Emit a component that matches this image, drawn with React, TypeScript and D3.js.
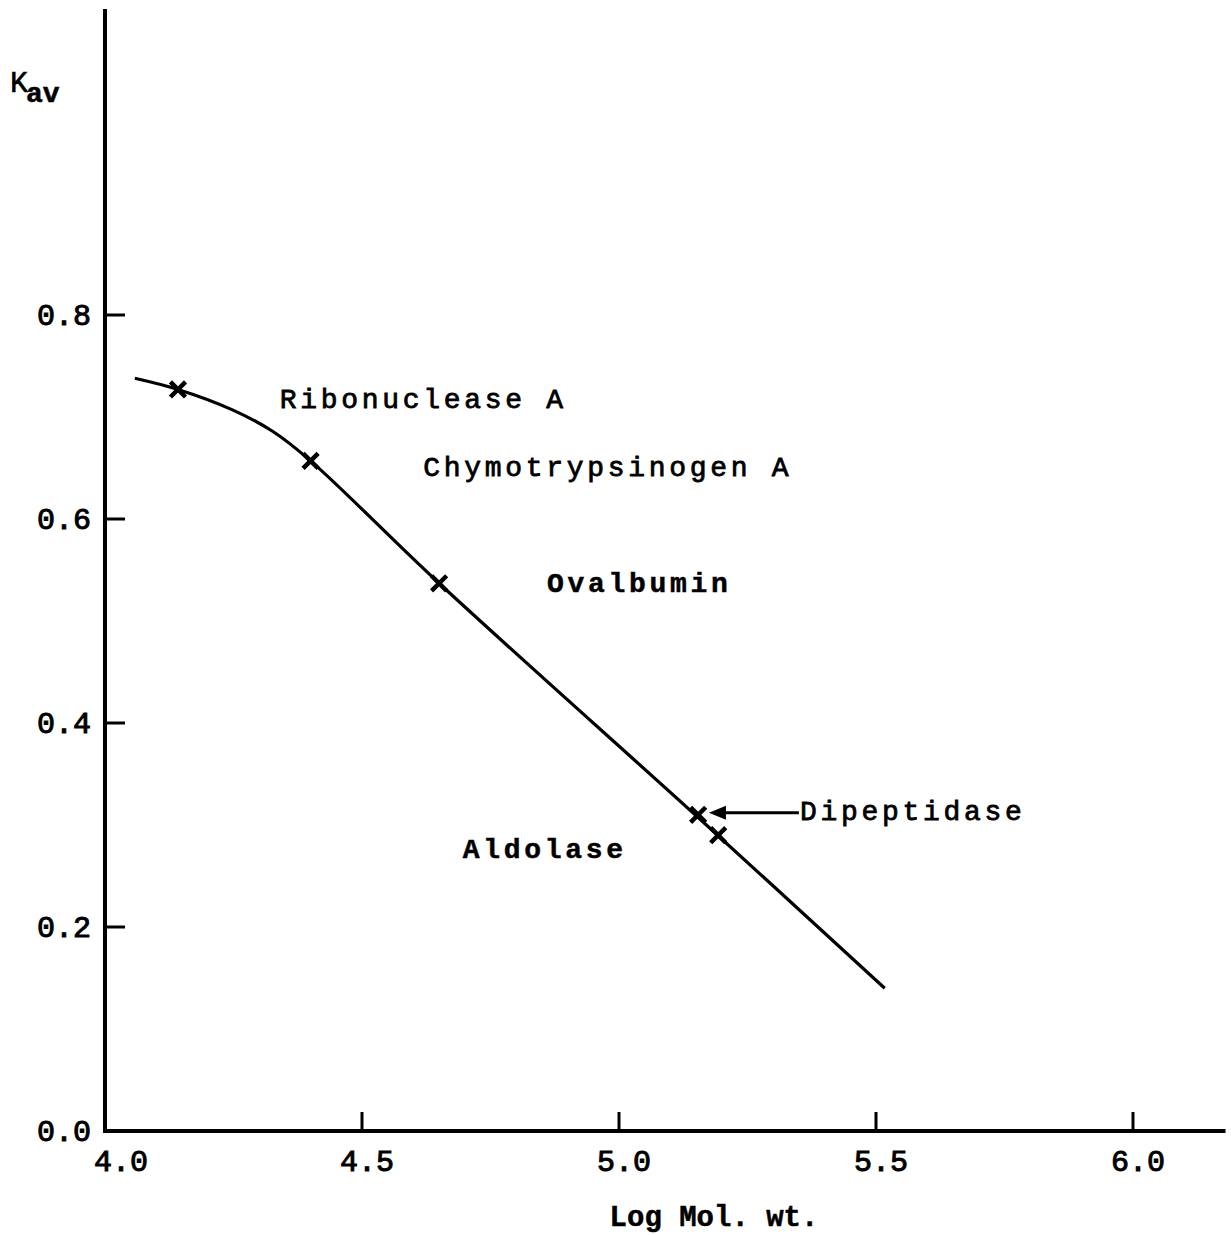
import React, { useEffect, useRef } from 'react';
import * as d3 from 'd3';

// values
const xTicks = [4.0, 4.5, 5.0, 5.5, 6.0];
const yTicks = [0.0, 0.2, 0.4, 0.6, 0.8];

const proteins = ['Ribonuclease A', 'Chymotrypsinogen A', 'Ovalbumin', 'Dipeptidase', 'Aldolase'];
const logMw = [4.142, 4.40, 4.65, 5.154, 5.193];
const kav = [0.727, 0.657, 0.537, 0.310, 0.290];

// hand drawn calibration curve
const curveX = [4.058, 4.142, 4.248, 4.326, 4.40, 4.65, 5.17, 5.517];
const curveY = [0.738, 0.727, 0.707, 0.686, 0.657, 0.537, 0.300, 0.140];

// label anchors (data units): start x, baseline y
const labelX = [4.340, 4.619, 4.860, 5.352, 4.696];
const labelY = [0.709, 0.642, 0.528, 0.305, 0.268];
const labelBold = [false, false, true, false, true];

const W = 1231, H = 1235;
const FONT = '"Liberation Mono", "DejaVu Sans Mono", monospace';

function App() {
  const ref = useRef(null);

  useEffect(() => {
    const svg = d3.select(ref.current);
    svg.selectAll('*').remove();

    const x = d3.scaleLinear().domain([4.0, 6.0]).range([105, 1133]);
    const y = d3.scaleLinear().domain([0, 0.8]).range([1131, 315]);

    const g = svg.append('g');

    // axes drawn by hand, ticks point inward
    g.append('line')
      .attr('x1', x(4.0)).attr('x2', x(4.0))
      .attr('y1', y(1.1)).attr('y2', y(0))
      .attr('stroke', '#000').attr('stroke-width', 4);
    g.append('line')
      .attr('x1', x(4.0) - 2).attr('x2', x(6.18))
      .attr('y1', y(0)).attr('y2', y(0))
      .attr('stroke', '#000').attr('stroke-width', 4);

    g.selectAll('.ytick')
      .data(yTicks.filter(d => d > 0))
      .enter()
      .append('line')
        .attr('x1', x(4.0)).attr('x2', x(4.0) + 20)
        .attr('y1', d => y(d)).attr('y2', d => y(d))
        .attr('stroke', '#000').attr('stroke-width', 3);

    g.selectAll('.xtick')
      .data(xTicks.filter(d => d > 4))
      .enter()
      .append('line')
        .attr('x1', d => x(d)).attr('x2', d => x(d))
        .attr('y1', y(0)).attr('y2', y(0) - 19)
        .attr('stroke', '#000').attr('stroke-width', 3);

    g.selectAll('.ylab')
      .data(yTicks)
      .enter()
      .append('text')
        .attr('x', x(4.0) - 14)
        .attr('y', d => y(d) + 10)
        .attr('text-anchor', 'end')
        .attr('font-family', FONT)
        .attr('font-size', 30)
        .attr('stroke', '#000').attr('stroke-width', 1)
        .text(d => d3.format('.1f')(d));

    g.selectAll('.xlab')
      .data(xTicks)
      .enter()
      .append('text')
        .attr('x', (d, i) => x(d) + (i === 0 ? 16 : 5))
        .attr('y', y(0) + 40)
        .attr('text-anchor', 'middle')
        .attr('font-family', FONT)
        .attr('font-size', 30)
        .attr('stroke', '#000').attr('stroke-width', 1)
        .text(d => d3.format('.1f')(d));

    // axis titles
    const kt = g.append('text')
      .attr('x', 10).attr('y', 92)
      .attr('font-family', FONT)
      .attr('font-size', 30)
      .attr('stroke', '#000').attr('stroke-width', 0.6);
    kt.append('tspan').text('K');
    kt.append('tspan').attr('dy', 10).attr('dx', -2).attr('font-weight', 'bold').attr('font-size', 28).text('av');

    g.append('text')
      .attr('x', 714).attr('y', 1226)
      .attr('text-anchor', 'middle')
      .attr('font-family', FONT)
      .attr('font-size', 29)
      .attr('font-weight', 'bold')
      .attr('stroke', '#000').attr('stroke-width', 0.5)
      .text('Log Mol. wt.');

    // curve
    const pts = curveX.map((d, i) => [d, curveY[i]]);
    g.append('path')
      .datum(pts)
      .attr('fill', 'none')
      .attr('stroke', '#000')
      .attr('stroke-width', 3.2)
      .attr('d', d3.line()
        .x(d => x(d[0]))
        .y(d => y(d[1]))
        .curve(d3.curveCatmullRom.alpha(0.5)));

    // markers
    const sym = d3.symbol().type(d3.symbolX).size(150);
    g.selectAll('.pt')
      .data(logMw)
      .enter()
      .append('path')
        .attr('transform', (d, i) => 'translate(' + x(d) + ',' + y(kav[i]) + ')')
        .attr('d', sym())
        .attr('fill', 'none')
        .attr('stroke', '#000')
        .attr('stroke-width', 4.5);

    // labels
    g.selectAll('.lab')
      .data(proteins)
      .enter()
      .append('text')
        .attr('x', (d, i) => x(labelX[i]))
        .attr('y', (d, i) => y(labelY[i]))
        .attr('font-family', FONT)
        .attr('font-size', 28)
        .attr('letter-spacing', 3.7)
        .attr('font-weight', (d, i) => labelBold[i] ? 'bold' : 'normal')
        .attr('stroke', '#000')
        .attr('stroke-width', (d, i) => labelBold[i] ? 0.5 : 0.8)
        .text(d => d);

    // arrow to dipeptidase
    const ay = y(0.312);
    const tip = x(5.175);
    g.append('line')
      .attr('x1', x(5.350)).attr('x2', tip + 12)
      .attr('y1', ay).attr('y2', ay)
      .attr('stroke', '#000').attr('stroke-width', 3);
    g.append('path')
      .attr('d', 'M' + tip + ',' + ay + 'L' + (tip + 17) + ',' + (ay - 7) + 'L' + (tip + 17) + ',' + (ay + 7) + 'Z')
      .attr('fill', '#000');
  }, []);

  return (
    <svg ref={ref} width={W} height={H}
      style={{ position: 'absolute', left: 0, top: 0, background: '#fff' }} />
  );
}

export default App;
